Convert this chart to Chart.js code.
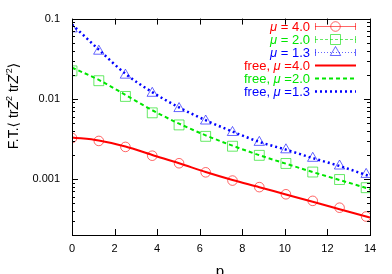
<!DOCTYPE html>
<html>
<head>
<meta charset="utf-8">
<script src="https://cdn.jsdelivr.net/npm/chart.js@4"></script>
<style>
  body { margin: 0; background: #fff; }
  canvas { display: block; }
</style>
</head>
<body>
<canvas id="ftChart" width="392" height="274"></canvas>
<script>
// measured points (p = 2*pi*n/5)
const momenta = [0, 1.26, 2.51, 3.77, 5.03, 6.28, 7.54, 8.80, 10.05, 11.31, 12.57, 13.82];
const mu40 = [0.00324, 0.00298, 0.00251, 0.00195, 0.00157, 0.00121, 0.000955, 0.000791, 0.000644, 0.000533, 0.000438, 0.00034];
const mu20 = [0.0223, 0.0168, 0.0107, 0.00668, 0.00472, 0.0034, 0.00256, 0.00197, 0.00156, 0.00122, 0.000984, 0.000778];
const mu13 = [0.0745, 0.0392, 0.0197, 0.0117, 0.00755, 0.00528, 0.0038, 0.00286, 0.00231, 0.00181, 0.00145, 0.00114];

// free theory curves
const freeMomenta = [0, 1.26, 2.51, 3.77, 5.03, 6.28, 7.54, 8.80, 10.05, 11.31, 12.57, 13.82, 14];
const free40 = [0.0033, 0.00302, 0.00254, 0.00199, 0.00157, 0.00122, 0.00097, 0.00079, 0.00064, 0.00052, 0.00042, 0.00034, 0.00033];
const free20 = [0.0245, 0.0172, 0.0112, 0.0072, 0.0049, 0.0035, 0.0026, 0.00198, 0.00155, 0.00122, 0.00097, 0.00077, 0.00074];
const free13 = [0.0845, 0.041, 0.0205, 0.0121, 0.0078, 0.0054, 0.0039, 0.0029, 0.00232, 0.00182, 0.00145, 0.00112, 0.00108];

const xTicks = [0, 2, 4, 6, 8, 10, 12, 14];
const yTicks = [0.001, 0.01, 0.1];
const yTickLabels = ["0.001", "0.01", "0.1"];
const keyLabels = ["μ = 4.0", "μ = 2.0", "μ = 1.3", "free, μ =4.0", "free, μ =2.0", "free, μ =1.3"];

const RED = "#ff0000";
const GREEN = "#00e600";
const BLUE = "#0000ff";
const FONT = "'Liberation Sans', Arial, sans-serif";

function toPoints(xs, ys) {
  return xs.map((x, i) => ({ x: x, y: ys[i] }));
}

const markerSets = [
  { data: mu40, color: "rgba(255,0,0,0.6)", style: "circle", radius: 4.8 },
  { data: mu20, color: "rgba(0,220,0,0.6)", style: "rect", radius: 7 },
  { data: mu13, color: "rgba(0,0,255,0.6)", style: "triangle", radius: 6 }
];
const curveSets = [
  { data: free40, color: RED, dash: [], width: 2 },
  { data: free20, color: GREEN, dash: [4, 3], width: 2 },
  { data: free13, color: BLUE, dash: [2, 3], width: 2.5 }
];

const datasets = [];
curveSets.forEach(c => {
  datasets.push({
    data: toPoints(freeMomenta, c.data),
    showLine: true,
    borderColor: c.color,
    borderWidth: c.width,
    borderDash: c.dash,
    pointRadius: 0,
    cubicInterpolationMode: "monotone",
    order: 0
  });
});
markerSets.forEach(m => {
  datasets.push({
    data: toPoints(momenta, m.data),
    showLine: false,
    pointStyle: m.style,
    pointRadius: m.radius,
    borderColor: m.color,
    backgroundColor: "rgba(0,0,0,0)",
    pointBorderWidth: 1,
    order: 1
  });
});

const framePlugin = {
  id: "frame",
  afterDraw(chart) {
    const { ctx, chartArea: a, scales } = chart;
    ctx.save();
    ctx.strokeStyle = "#000";
    ctx.lineWidth = 1;
    ctx.strokeRect(Math.round(a.left) + 0.5, Math.round(a.top) + 0.5, Math.round(a.right - a.left), Math.round(a.bottom - a.top));
    ctx.beginPath();
    xTicks.forEach(v => {
      const px = Math.round(scales.x.getPixelForValue(v)) + 0.5;
      ctx.moveTo(px, a.bottom);
      ctx.lineTo(px, a.bottom - 6);
      ctx.moveTo(px, a.top);
      ctx.lineTo(px, a.top + 6);
    });
    for (let d = -4; d <= -1; d++) {
      for (let k = 1; k <= 9; k++) {
        const v = k * Math.pow(10, d);
        if (v < scales.y.min || v > scales.y.max) continue;
        const py = Math.round(scales.y.getPixelForValue(v)) + 0.5;
        const len = k === 1 ? 6 : 3;
        ctx.moveTo(a.left, py);
        ctx.lineTo(a.left + len, py);
        ctx.moveTo(a.right, py);
        ctx.lineTo(a.right - len, py);
      }
    }
    ctx.stroke();
    ctx.restore();
  }
};

function drawRich(ctx, parts, x, y, align) {
  const widths = parts.map(p => {
    ctx.font = (p.it ? "italic " : "") + p.size + "px " + (p.family || FONT);
    return ctx.measureText(p.t).width;
  });
  const total = widths.reduce((s, w) => s + w, 0);
  let cx = align === "right" ? x - total : (align === "center" ? x - total / 2 : x);
  parts.forEach((p, i) => {
    ctx.font = (p.it ? "italic " : "") + p.size + "px " + (p.family || FONT);
    ctx.fillText(p.t, cx, y + (p.dy || 0));
    cx += widths[i];
  });
}

function splitMu(label, size) {
  const i = label.indexOf("μ");
  return [
    { t: label.slice(0, i), size: size },
    { t: "μ", it: true, size: size },
    { t: label.slice(i + 1), size: size }
  ];
}

function drawMarker(ctx, style, x, y, color) {
  ctx.save();
  ctx.strokeStyle = color;
  ctx.lineWidth = 1;
  ctx.setLineDash([]);
  ctx.beginPath();
  if (style === "circle") {
    ctx.arc(x, y, 4.8, 0, Math.PI * 2);
  } else if (style === "rect") {
    ctx.rect(x - 5, y - 5, 10, 10);
  } else {
    ctx.moveTo(x, y - 6);
    ctx.lineTo(x + 5.2, y + 3);
    ctx.lineTo(x - 5.2, y + 3);
    ctx.closePath();
  }
  ctx.stroke();
  ctx.restore();
}

const keyPlugin = {
  id: "key",
  afterDraw(chart) {
    const ctx = chart.ctx;
    const colors = [RED, GREEN, BLUE];
    const textRight = 310;
    const x0 = 315, x1 = 356;
    ctx.save();
    ctx.textBaseline = "middle";
    keyLabels.forEach((label, i) => {
      const y = 26 + i * 13;
      const c = colors[i % 3];
      ctx.fillStyle = c;
      drawRich(ctx, splitMu(label, 13), textRight, y + 1, "right");
      if (i < 3) {
        const m = markerSets[i];
        ctx.strokeStyle = m.color;
        ctx.lineWidth = 1;
        ctx.setLineDash([[], [3, 2], [1, 2]][i]);
        ctx.beginPath();
        ctx.moveTo(x0, y + 0.5);
        ctx.lineTo(x1, y + 0.5);
        ctx.stroke();
        ctx.setLineDash([]);
        ctx.beginPath();
        ctx.moveTo(x0 + 0.5, y - 3);
        ctx.lineTo(x0 + 0.5, y + 4);
        ctx.moveTo(x1 - 0.5, y - 3);
        ctx.lineTo(x1 - 0.5, y + 4);
        ctx.stroke();
        drawMarker(ctx, m.style, (x0 + x1) / 2, y + 0.5, m.color);
      } else {
        const cs = curveSets[i - 3];
        ctx.strokeStyle = cs.color;
        ctx.lineWidth = cs.width;
        ctx.setLineDash(cs.dash);
        ctx.beginPath();
        ctx.moveTo(x0, y + 0.5);
        ctx.lineTo(x1, y + 0.5);
        ctx.stroke();
        ctx.setLineDash([]);
      }
    });
    ctx.restore();
  }
};

const titlePlugin = {
  id: "titles",
  afterDraw(chart) {
    const ctx = chart.ctx;
    ctx.save();
    ctx.fillStyle = "#000";
    ctx.textBaseline = "alphabetic";
    ctx.font = "15px " + FONT;
    ctx.textAlign = "center";
    ctx.fillText("p", 220, 276);
    ctx.textAlign = "left";
    ctx.translate(18, 106);
    ctx.rotate(-Math.PI / 2);
    drawRich(ctx, [
      { t: "F.T.", size: 14 },
      { t: "⟨", size: 14, family: "'DejaVu Sans', sans-serif" },
      { t: " tr", size: 14 },
      { t: "Z", it: true, size: 14 },
      { t: "2", size: 9, dy: -6 },
      { t: " tr", size: 14 },
      { t: "Z", it: true, size: 14 },
      { t: "'", size: 9, dy: -6 },
      { t: "2", size: 9, dy: -6 },
      { t: "⟩", size: 14, family: "'DejaVu Sans', sans-serif" }
    ], 0, 0, "center");
    ctx.restore();
  }
};

new Chart(document.getElementById("ftChart"), {
  type: "scatter",
  data: { datasets },
  options: {
    responsive: false,
    animation: false,
    layout: { padding: { top: 15, right: 22, left: 0, bottom: 0 } },
    plugins: { legend: { display: false }, tooltip: { enabled: false } },
    scales: {
      x: {
        type: "linear",
        min: 0,
        max: 14,
        grid: { display: false, drawTicks: false },
        border: { display: false },
        afterBuildTicks: s => { s.ticks = xTicks.map(v => ({ value: v })); },
        afterFit: s => { s.height = 39; },
        ticks: { padding: 7, color: "#000", font: { family: FONT, size: 11 }, maxRotation: 0, autoSkip: false }
      },
      y: {
        type: "logarithmic",
        min: 0.0002,
        max: 0.1,
        grid: { display: false, drawTicks: false },
        border: { display: false },
        afterBuildTicks: s => { s.ticks = yTicks.map(v => ({ value: v })); },
        afterFit: s => { s.width = 72; },
        ticks: {
          padding: 12,
          color: "#000",
          font: { family: FONT, size: 11 },
          autoSkip: false,
          callback: v => {
            const i = yTicks.indexOf(v);
            return i >= 0 ? yTickLabels[i] : "";
          }
        }
      }
    }
  },
  plugins: [framePlugin, keyPlugin, titlePlugin]
});
</script>
</body>
</html>
